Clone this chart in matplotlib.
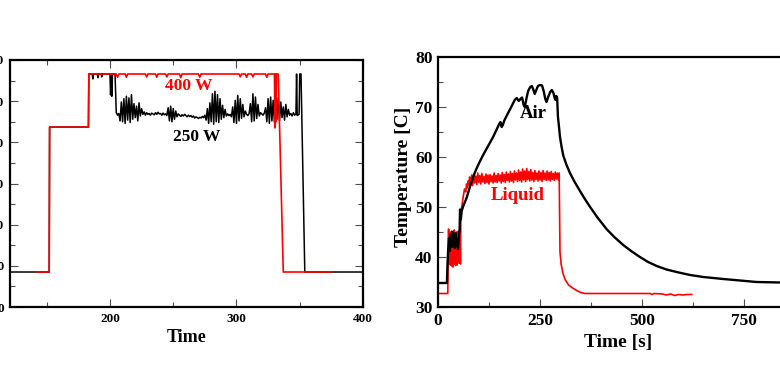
import numpy as np
import matplotlib
matplotlib.use("Agg")
import matplotlib.pyplot as plt
from matplotlib.ticker import MultipleLocator

plt.rcParams['font.family'] = ['Liberation Serif', 'DejaVu Serif']
plt.rcParams['font.weight'] = 'bold'

#%% left panel data (time vs level)
# 250 W trace
w250_t_start = [121, 152, 152.3, 183, 183.3, 186, 186.5, 187, 190, 190.5, 191, 193, 193.5, 194, 200, 200.5, 201, 201.5, 202, 204]
w250_y_start = [8.5, 8.5, 43.7, 43.7, 56.6, 56.6, 55.4, 56.6, 56.6, 55.7, 56.6, 56.6, 55.9, 56.6, 56.6, 51.5, 56.6, 51.2, 56.6, 56.6]
w250_t_noise = np.arange(205, 348)
w250_y_noise = [47.2, 46.6, 47.0, 45.2, 49.8, 45.0, 50.6, 44.6, 51.2, 45.4,
                50.8, 44.8, 51.6, 45.6, 49.4, 46.0, 48.8, 45.2, 49.6, 46.4,
                48.2, 46.8, 47.4, 46.6, 47.2, 46.8, 47.0, 46.6, 47.1, 46.9,
                46.7, 47.2, 46.8, 47.3, 46.9, 47.0, 46.6, 47.1, 46.7, 46.9,
                46.5, 48.4, 45.2, 48.8, 45.0, 48.2, 45.6, 47.6, 46.2, 46.9,
                46.6, 46.3, 46.7, 46.4, 46.8, 46.5, 46.2, 46.6, 46.3, 46.5,
                46.1, 46.4, 45.9, 46.2, 46.0, 45.8, 46.1, 45.9, 46.3, 46.0,
                46.6, 45.4, 48.2, 44.6, 49.6, 45.0, 51.8, 44.4, 52.4, 45.0,
                51.6, 44.8, 50.6, 45.6, 49.0, 46.0, 48.0, 46.4, 46.9, 46.5,
                46.8, 46.2, 48.6, 44.8, 50.2, 44.6, 51.4, 45.2, 50.6, 45.8,
                49.2, 46.2, 47.6, 46.8, 46.5, 47.0, 49.4, 45.0, 51.8, 45.2,
                51.0, 45.8, 49.2, 46.4, 47.2, 46.9, 46.6, 47.1, 48.4, 45.0,
                50.6, 44.6, 51.0, 45.2, 50.2, 44.8, 51.2, 45.6, 50.8, 45.2,
                49.8, 46.0, 48.6, 45.4, 49.2, 46.2, 48.0, 46.6, 47.0, 46.4,
                47.2, 46.6, 46.9]
w250_t_end = [347.5, 348, 349.5, 350, 351, 354, 400]
w250_y_end = [56.6, 46.5, 46.8, 56.6, 56.6, 8.5, 8.5]

# 400 W trace
w400_t = [142, 152, 152.3, 183, 183.3, 205, 206, 207, 212, 213, 214, 228, 229, 230,
          236, 237, 238, 244, 245, 246, 255, 256, 257, 270, 271, 272, 302, 303, 304,
          307, 308, 309, 312, 313, 314, 323, 324, 325, 330, 330.4, 330.8, 331.2, 331.6,
          332, 333, 337, 375]
w400_y = [8.5, 8.5, 43.7, 43.7, 56.6, 56.6, 55.8, 56.6, 56.6, 55.8, 56.6, 56.6, 55.9, 56.6,
          56.6, 55.8, 56.6, 56.6, 55.9, 56.6, 56.6, 55.7, 56.6, 56.6, 55.8, 56.6, 56.6, 55.9, 56.6,
          56.6, 55.8, 56.6, 56.6, 55.9, 56.6, 56.6, 55.8, 56.6, 56.6, 43.5, 56.6, 45.0, 56.6,
          56.6, 56.6, 8.5, 8.5]

#%% right panel data (temperature vs time)
air_t = [0, 22, 23, 25, 27, 29, 31, 33, 35, 37, 39, 41, 43, 45, 47, 49, 51, 53, 54, 56, 58,
         62, 66, 70, 76, 82, 88, 95, 102, 110, 118, 127, 135, 142, 150, 153, 156, 159, 162,
         168, 175, 182, 188, 193, 198, 202, 206, 210, 213, 217, 221, 226, 230, 234, 237, 241,
         245, 250, 255, 259, 263, 266, 270, 275, 279, 283, 286, 288, 290, 292, 294, 296, 299,
         303, 307, 315, 324, 335, 348, 360, 372, 390, 413, 432, 454, 475, 495, 515, 536, 560,
         590, 618, 650, 699, 740, 781, 840, 900]
air_y = [34.8, 34.8, 38.0, 41.5, 43.8, 41.2, 44.6, 42.0, 45.0, 42.4, 44.2, 41.8, 44.8, 42.2,
         43.6, 41.6, 44.0, 45.5, 49.5, 47.5, 49.2, 50.2, 51.0, 51.8, 53.4, 55.0, 56.4, 57.8,
         59.0, 60.3, 61.5, 62.8, 64.0, 65.2, 66.6, 67.0, 66.0, 66.4, 67.2, 68.2, 69.3, 70.4,
         71.4, 71.8, 71.2, 71.6, 71.9, 70.4, 70.0, 71.8, 73.2, 74.0, 74.2, 73.4, 72.6, 73.4,
         74.2, 74.4, 74.3, 73.2, 71.6, 71.0, 72.0, 73.0, 73.4, 72.8, 71.8, 71.4, 72.2, 71.8,
         68.0, 66.5, 64.0, 62.0, 60.3, 58.4, 56.7, 55.0, 53.2, 51.6, 50.1, 48.0, 45.6, 44.0,
         42.4, 41.1, 40.0, 39.0, 38.2, 37.5, 36.9, 36.4, 36.0, 35.6, 35.3, 35.0, 34.9, 34.8]

liq_t_start = [0, 24, 25, 26, 27, 28, 29, 30, 31, 32, 33, 34, 35, 36, 37, 38, 39, 40, 41, 42,
               43, 44, 45, 46, 47, 48, 49, 50, 51, 52, 53, 54, 55, 56, 57, 59, 62, 65, 68, 70,
               72, 74, 76]
liq_y_start = [32.7, 32.7, 41.0, 45.6, 39.0, 44.5, 38.5, 45.0, 40.0, 44.0, 38.2, 45.2, 39.5,
               43.5, 38.0, 44.8, 39.2, 45.4, 38.6, 43.8, 38.3, 44.6, 39.8, 45.0, 38.4, 44.2,
               39.0, 45.2, 38.8, 44.0, 39.4, 46.0, 38.6, 47.5, 49.5, 50.4, 52.2, 53.6, 53.0,
               54.6, 53.8, 55.2, 54.4]
liq_t_band = np.arange(77.5, 297, 2.5)
liq_y_band = [56.0, 54.6, 56.4, 54.3, 56.6, 54.8, 56.2, 54.5, 56.8, 54.9,
              56.3, 54.6, 56.7, 55.0, 56.1, 54.7, 56.6, 54.9, 56.4, 54.6,
              56.5, 55.1, 56.2, 54.8, 56.8, 55.0, 56.3, 54.9, 56.7, 55.2,
              56.4, 54.8, 56.9, 55.1, 56.5, 54.9, 57.0, 55.3, 56.6, 55.0,
              57.1, 55.2, 56.7, 54.9, 57.2, 55.4, 56.8, 55.1, 57.4, 55.3,
              57.0, 55.0, 57.6, 55.4, 57.2, 55.1, 57.7, 55.5, 57.1, 55.2,
              57.5, 55.4, 56.9, 55.1, 57.3, 55.5, 56.8, 55.2, 57.2, 55.4,
              56.9, 55.1, 57.3, 55.5, 56.8, 55.3, 57.2, 55.4, 56.9, 55.2,
              57.1, 55.5, 56.7, 55.3, 57.0, 55.6, 56.8, 55.4]
liq_t_end = [297, 298, 299, 302, 306, 312, 320, 330, 340, 350, 360, 520, 525, 530, 550, 560,
             570, 580, 590, 600, 610, 622]
liq_y_end = [56.8, 48.0, 41.0, 38.5, 36.8, 35.4, 34.4, 33.8, 33.3, 32.9, 32.7, 32.7, 32.5,
             32.7, 32.6, 32.4, 32.6, 32.3, 32.5, 32.4, 32.5, 32.5]

#%%
fig = plt.figure(figsize=(7.8, 3.91), dpi=100)

ax1 = fig.add_axes([10/780, 84/391, 353/780, 247/391])
ax1.plot(np.concatenate([w250_t_start, w250_t_noise, w250_t_end]),
         np.concatenate([w250_y_start, w250_y_noise, w250_y_end]), color='black', lw=1.1)
ax1.plot(w400_t, w400_y, color='red', lw=1.2)
ax1.set_xlim(121, 400)
ax1.set_ylim(0, 60)
ax1.xaxis.set_major_locator(MultipleLocator(100))
ax1.xaxis.set_minor_locator(MultipleLocator(50))
ax1.yaxis.set_major_locator(MultipleLocator(10))
ax1.yaxis.set_minor_locator(MultipleLocator(5))
ax1.tick_params(which='both', direction='in', top=True, right=True, labelsize=9.5, pad=4.5, color='0.3')
ax1.tick_params(which='major', length=6, width=0.8)
ax1.tick_params(which='minor', length=3.5, width=0.8)
ax1.text(262.5, 53.7, '400 W', color='red', fontsize=12.5, fontweight='bold', ha='center', va='center')
ax1.text(268.8, 41.3, '250 W', color='black', fontsize=12.5, fontweight='bold', ha='center', va='center')
ax1.set_xlabel('Time', fontsize=13, fontweight='bold')
ax1.xaxis.label.set_va('center')
ax1.xaxis.set_label_coords(0.501, -0.125)

ax2 = fig.add_axes([438/780, 84/391, 408/780, 250/391])
ax2.plot(liq_t_start + list(liq_t_band) + liq_t_end,
         liq_y_start + liq_y_band + liq_y_end, color='red', lw=1.2)
ax2.plot(air_t, air_y, color='black', lw=1.7)
ax2.set_xlim(0, 1000)
ax2.set_ylim(30, 80)
ax2.xaxis.set_major_locator(MultipleLocator(250))
ax2.xaxis.set_minor_locator(MultipleLocator(125))
ax2.yaxis.set_major_locator(MultipleLocator(10))
ax2.yaxis.set_minor_locator(MultipleLocator(5))
ax2.tick_params(which='both', direction='in', labelsize=12.5, pad=4, color='0.3')
ax2.tick_params(which='major', length=6, width=0.8)
ax2.tick_params(which='minor', length=3.5, width=0.8)
ax2.text(233, 68.8, 'Air', color='black', fontsize=13.5, fontweight='bold', ha='center', va='center')
ax2.text(196, 52.4, 'Liquid', color='red', fontsize=13.5, fontweight='bold', ha='center', va='center')
ax2.set_xlabel('Time [s]', fontsize=14, fontweight='bold')
ax2.xaxis.label.set_va('center')
ax2.xaxis.set_label_coords(0.441, -0.144)
ax2.set_ylabel('Temperature [C]', fontsize=14, fontweight='bold')
ax2.yaxis.label.set_va('center')
ax2.yaxis.set_label_coords(-0.085, 0.52)

for ax in (ax1, ax2):
    for s in ax.spines.values():
        s.set_linewidth(1.6)

fig.savefig('out.png', dpi=100)
